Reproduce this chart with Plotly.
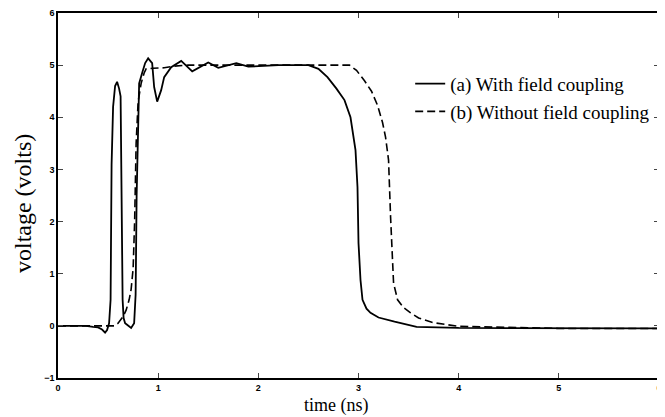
import plotly.graph_objects as go

# (a) With field coupling
t_a = [0.0, 0.28, 0.35, 0.40, 0.44, 0.47, 0.49, 0.51, 0.525, 0.535, 0.55, 0.57, 0.59,
       0.61, 0.625, 0.635, 0.645, 0.655, 0.67, 0.69, 0.73, 0.76, 0.775, 0.785, 0.81,
       0.84, 0.87, 0.90, 0.94, 0.96, 0.99, 1.03, 1.06, 1.13, 1.23, 1.34, 1.50, 1.60,
       1.78, 1.90, 2.00, 2.20, 2.50, 2.60, 2.69, 2.78, 2.86, 2.92, 2.97, 2.99, 3.00,
       3.02, 3.04, 3.08, 3.12, 3.20, 3.36, 3.58, 4.00, 5.00, 6.00]
v_a = [0.0, 0.0, -0.02, -0.03, -0.07, -0.13, -0.08, 0.05, 0.5, 3.1, 4.2, 4.6, 4.68,
       4.55, 4.4, 2.5, 0.5, 0.15, 0.05, 0.02, -0.04, 0.05, 0.6, 2.5, 4.65,
       4.85, 5.04, 5.13, 5.04, 4.58, 4.3, 4.52, 4.77, 4.96, 5.08, 4.88, 5.05, 4.95,
       5.04, 4.97, 4.98, 5.0, 5.0, 4.93, 4.77, 4.55, 4.33, 4.0, 3.37, 2.66, 1.59,
       0.88, 0.5, 0.33, 0.25, 0.16, 0.08, -0.02, -0.04, -0.05, -0.05]

# (b) Without field coupling
t_b = [0.0, 0.50, 0.56, 0.60, 0.62, 0.65, 0.68, 0.71, 0.73, 0.75, 0.765, 0.78, 0.80,
       0.83, 0.86, 0.88, 0.95, 1.06, 1.15, 1.30, 2.91, 2.98, 3.06, 3.13, 3.19, 3.24,
       3.27, 3.30, 3.32, 3.34, 3.35, 3.39, 3.45, 3.52, 3.60, 3.75, 3.90, 4.00, 5.00, 6.00]
v_b = [0.0, 0.0, 0.0, 0.05, 0.1, 0.18, 0.3, 0.5, 0.7, 1.1, 2.0, 3.5, 4.3,
       4.65, 4.85, 4.93, 4.94, 4.95, 4.98, 5.0, 5.0, 4.9, 4.7, 4.5, 4.23, 3.9,
       3.62, 3.18, 2.1, 1.32, 0.82, 0.5, 0.35, 0.25, 0.15, 0.06, 0.01, -0.01, -0.05, -0.05]

x_ticks = [0, 1, 2, 3, 4, 5, 6]
y_ticks = [-1, 0, 1, 2, 3, 4, 5, 6]

fig = go.Figure()
fig.add_trace(go.Scatter(x=t_a, y=v_a, mode="lines", name="(a) With field coupling",
                         line=dict(color="black", width=1.8), legendgroup="a"))
fig.add_trace(go.Scatter(x=t_b, y=v_b, mode="lines", name="(b) Without field coupling",
                         line=dict(color="black", width=1.6, dash="8px,4px"), legendgroup="b"))

tickfont = dict(family="Liberation Sans", size=9, color="black", weight="bold")
fig.update_layout(
    width=657, height=409,
    margin=dict(l=50, r=6, t=5, b=39),
    paper_bgcolor="white", plot_bgcolor="white",
    showlegend=True,
    legend=dict(x=0.586, y=0.858, xanchor="left", yanchor="top",
                bgcolor="rgba(0,0,0,0)", borderwidth=0,
                font=dict(family="Liberation Serif", size=19, color="black"),
                traceorder="grouped", tracegroupgap=0),
    xaxis=dict(range=[0, 6], tickvals=x_ticks, ticks="inside", ticklen=5,
               showline=True, linecolor="black", linewidth=1.5, mirror="ticks",
               showgrid=False, zeroline=False, tickfont=tickfont, automargin=False),
    yaxis=dict(range=[-1, 6], tickvals=y_ticks, ticks="inside", ticklen=5,
               showline=True, linecolor="black", linewidth=1.5, mirror="ticks",
               showgrid=False, zeroline=False, tickfont=tickfont, automargin=False),
    annotations=[
        dict(text="time (ns)", xref="paper", yref="paper", x=0.464, y=-0.074,
             xanchor="center", yanchor="middle", showarrow=False,
             font=dict(family="Liberation Serif", size=18, color="black")),
        dict(text="voltage (volts)", xref="paper", yref="paper", x=-0.058, y=0.477,
             xanchor="center", yanchor="middle", showarrow=False, textangle=-90,
             font=dict(family="Liberation Serif", size=24, color="black")),
    ],
)
fig.write_html("out.html")
